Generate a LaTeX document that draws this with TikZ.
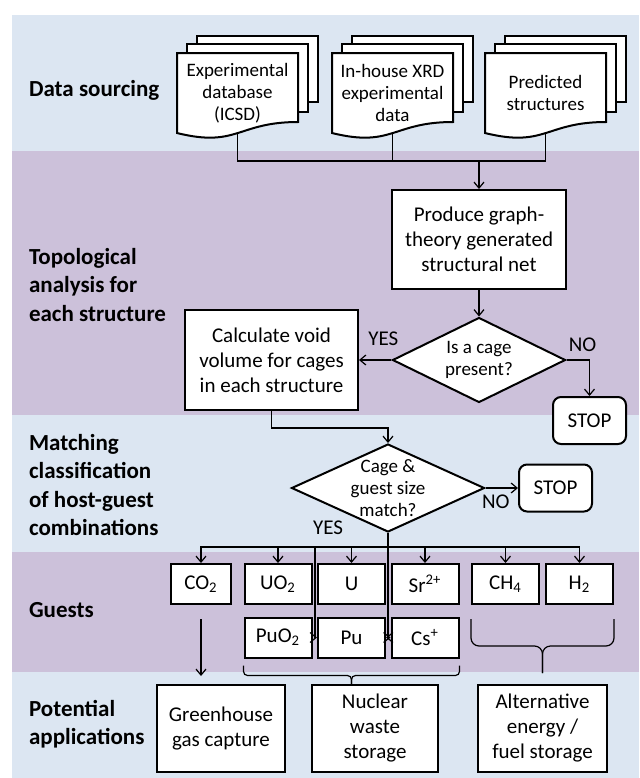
\documentclass[tikz,border=0pt]{standalone}
\usepackage{fontspec}
\setmainfont{Carlito}
\usetikzlibrary{shapes.geometric,arrows.meta,calc}

\definecolor{bandblue}{HTML}{DCE6F2}
\definecolor{bandpurple}{HTML}{CCC1DA}

\newcommand{\boxfont}{\fontsize{10.5}{12.5}\selectfont}
\newcommand{\smallfont}{\fontsize{9.5}{11}\selectfont}
\newcommand{\stagefont}{\fontsize{11.5}{14.2}\selectfont\bfseries}

% three stacked pages, the front one with a wavy foot
\newcommand{\docstack}[4]{%
  \draw[page] (#2+20,#3-17) rectangle (#2+141,#3+49);
  \draw[page] (#2+10,#3-9) rectangle (#2+131,#3+59);
  \draw[page] (#2,#3) -- (#2+121,#3) -- (#2+121,#3+69)
    .. controls (#2+60.5,#3+69) and (#2+60.5,#3+95) .. (#2,#3+80) -- cycle;
  \node[doc] (#1) at (#2+60.5,#3+40) {#4};
}

\begin{document}
\begin{tikzpicture}
    [x=0.5pt,y=-0.5pt,
     pre/.style={<-,>={Straight Barb[length=3pt,width=5pt]},line width=0.6pt},
     post/.style={->,>={Straight Barb[length=3pt,width=5pt]},line width=0.6pt},
     wire/.style={line width=0.6pt},
     page/.style={draw=black,fill=white,line width=1pt},
     doc/.style={minimum width=60.5pt,minimum height=40pt,inner sep=0pt,align=center,font=\smallfont},
     box/.style={draw=black,fill=white,line width=1pt,inner sep=0pt,align=center,font=\boxfont},
     guest/.style={box,minimum width=33.5pt,minimum height=20pt},
     stop/.style={box,rounded corners=4pt,minimum width=36.5pt,minimum height=23.5pt},
     decision/.style={shape=diamond,draw=black,fill=white,line width=1pt,inner sep=0pt},
     dtext/.style={align=center,font=\smallfont,inner sep=0pt},
     lbl/.style={font=\boxfont,inner sep=1pt},
     stage/.style={anchor=west,align=left,font=\stagefont}]
    \useasboundingbox (0,0) rectangle (639,778);
    % bands
    \fill[bandblue] (12,15) rectangle (639,151);
    \fill[bandpurple] (12,151) rectangle (639,415);
    \fill[bandblue] (12,415) rectangle (639,552);
    \fill[bandpurple] (12,552) rectangle (639,672);
    \fill[bandblue] (12,672) rectangle (639,778);

    \node[stage] (L1) at (22,90) {Data sourcing};
    \node[stage] (L2) at (22,285) {Topological\\analysis for\\each structure};
    \node[stage] (L3) at (22,485) {Matching\\classification\\of host-guest\\combinations};
    \node[stage] (L4) at (22,610) {Guests};
    \node[stage] (L5) at (22,724) {Potential\\applications};

    \docstack{D1}{177}{53}{Experimental\\database\\(ICSD)}
    \docstack{D2}{332}{53}{In-house XRD\\experimental\\data}
    \docstack{D3}{485}{53}{Predicted\\structures}

    \node[box,minimum width=87pt,minimum height=49.5pt] (P) at (479,239.5)
      {Produce graph-\\theory generated\\structural net};
    \coordinate (J) at (P.north |- 0,161);
    \draw[wire] (D1.south) |- (J) -| (D3.south);
    \draw[wire] (D2.south) -- (D2.south |- J);
    \draw[post] (J) -- (P);

    \node[decision,minimum width=86.5pt,minimum height=42.5pt,
      label={[dtext]center:Is a cage\\present?}] (Q) at (479,360) {}
      edge [pre] (P);
    \node[box,minimum width=86.5pt,minimum height=50pt] (C) at (271.5,360)
      {Calculate void\\volume for cages\\in each structure}
      edge [pre] node[above=6pt,lbl,xshift=4pt] {YES} (Q);
    \node[stop] (S1) at (589.5,420.5) {STOP};
    \draw[post] (Q.east) -| node[pos=0.35,above=3pt,lbl] {NO} (S1);

    \node[decision,minimum width=96.5pt,minimum height=44pt,
      label={[dtext]center:Cage \&\\guest size\\match?}] (M) at (388,488) {};
    \draw[post] (C.south) -- ++(0,17) -| (M);
    \node[stop] (S2) at (555.5,488) {STOP}
      edge [pre] node[below=2pt,lbl,xshift=-3pt] {NO} (M);
    \node[lbl] (Y2) at (328,528) {YES};

    % guests
    \node[guest,minimum width=30pt] (G1) at (201,584) {CO\textsubscript{2}};
    \node[guest] (G2) at (278,584) {UO\textsubscript{2}};
    \node[guest] (G3) at (351.5,584) {U};
    \node[guest] (G4) at (425,584) {Sr\textsuperscript{2+}};
    \node[guest] (G5) at (505.5,584) {CH\textsubscript{4}};
    \node[guest] (G6) at (579.5,584) {H\textsubscript{2}};
    \node[guest] (G7) at (278,637.5) {PuO\textsubscript{2}};
    \node[guest] (G8) at (351.5,637.5) {Pu};
    \node[guest] (G9) at (425,637.5) {Cs\textsuperscript{+}};

    \coordinate (B) at (M.south |- 0,547);
    \draw[wire] (M.south) -- (B);
    \draw[post] (B) -| (G1);
    \draw[post] (B) -| (G2);
    \draw[post] (B) -| (G3);
    \draw[post] (B) -| (G4);
    \draw[post] (B) -| (G5);
    \draw[post] (B) -| (G6);
    \coordinate (K) at ([xshift=-1pt]G8.west |- B);
    \draw[post] (K) |- (G8);
    \coordinate (X) at (B |- G8);
    \draw[wire] (B) -- (X);
    \draw[post] (X) -- (G8.east);
    \draw[post] (X) -- (G9.west);

    % applications
    \node[box,minimum width=64pt,minimum height=43.5pt] (A1) at (221,728.5) {Greenhouse\\gas capture};
    \node[box,minimum width=63pt,minimum height=43.5pt] (A2) at (375,728.5) {Nuclear\\waste\\storage};
    \node[box,minimum width=64.5pt,minimum height=43.5pt] (A3) at (542.5,728.5) {Alternative\\energy /\\fuel storage};

    \coordinate (T) at (G1.south |- A1.north);
    \draw[post] ([yshift=-7pt]G1.south) -- ([yshift=4pt]T);
    \draw[wire,rounded corners=2pt] ($(G7.south west)+(0,7)$) |- ($(G8.south)+(0,17)$) -- (G8.south |- A2.north);
    \draw[wire,rounded corners=2pt] ($(G9.south east)+(0,7)$) |- ($(G8.south)+(0,17)$) -- (G8.south |- A2.north);
    \coordinate (H) at ($(G5.south west)!.5!(G6.south east)$);
    \draw[wire,rounded corners=4pt] ($(G5.south west)+(0,14)$) |- ($(H)+(0,41)$) -- ($(H)+(0,68)$);
    \draw[wire,rounded corners=4pt] ($(G6.south east)+(0,14)$) |- ($(H)+(0,41)$) -- ($(H)+(0,68)$);
  \end{tikzpicture}
\end{document}
